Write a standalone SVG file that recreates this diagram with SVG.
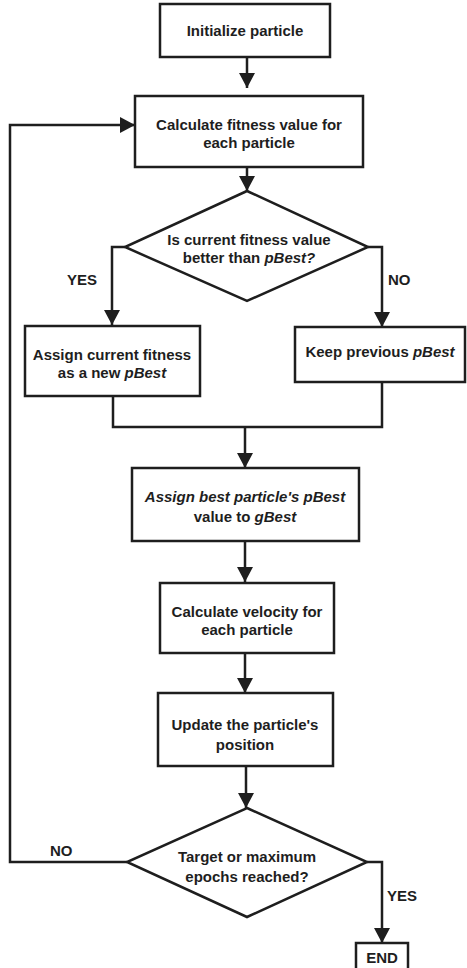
<svg xmlns="http://www.w3.org/2000/svg" width="467" height="968" viewBox="0 0 467 968">
<defs>
<marker id="arr" markerUnits="userSpaceOnUse" markerWidth="16" markerHeight="16" viewBox="0 0 16 16" refX="15" refY="8" orient="auto">
<path d="M0,0 L15,8 L0,16 Z" fill="#1e1e1e"/>
</marker>
</defs>
<style>
.box{fill:#fff;stroke:#1e1e1e;stroke-width:2.5}
.ln{fill:none;stroke:#1e1e1e;stroke-width:2.5}
.t{font-family:"Liberation Sans",Arial,sans-serif;font-weight:bold;font-size:15px;fill:#1e1e1e;text-anchor:middle}
.l{font-family:"Liberation Sans",Arial,sans-serif;font-weight:bold;font-size:15px;fill:#1e1e1e}
.i{font-style:italic}
</style>
<rect width="467" height="968" fill="#fff"/>
<g id="connectors">
<line class="ln" x1="247" y1="57" x2="247" y2="88" marker-end="url(#arr)"/>
<line class="ln" x1="247" y1="167" x2="247" y2="191" marker-end="url(#arr)"/>
<polyline class="ln" points="125,247 112,247 112,325" marker-end="url(#arr)"/>
<polyline class="ln" points="368,247 382,247 382,327" marker-end="url(#arr)"/>
<polyline class="ln" points="113,396 113,427 382,427 382,382"/>
<line class="ln" x1="245" y1="427" x2="245" y2="468" marker-end="url(#arr)"/>
<line class="ln" x1="245" y1="541" x2="245" y2="582" marker-end="url(#arr)"/>
<line class="ln" x1="245" y1="653" x2="245" y2="693" marker-end="url(#arr)"/>
<line class="ln" x1="246" y1="766" x2="246" y2="808" marker-end="url(#arr)"/>
<polyline class="ln" points="127,862 10,862 10,125 135,125" marker-end="url(#arr)"/>
<polyline class="ln" points="367,862 382,862 382,943" marker-end="url(#arr)"/>
<text class="l" x="67" y="285">YES</text>
<text class="l" x="388" y="285">NO</text>
<text class="l" x="50" y="856">NO</text>
<text class="l" x="387" y="901">YES</text>
</g>
<g id="init">
<rect class="box" x="160" y="4" width="170" height="53"/>
<text class="t" x="245" y="36">Initialize particle</text>
</g>
<g id="calc-fitness">
<rect class="box" x="135" y="96" width="228" height="71"/>
<text class="t" x="249" y="130">Calculate fitness value for</text>
<text class="t" x="249" y="148">each particle</text>
</g>
<g id="decision-pbest">
<polygon class="box" points="247,191 368,247 247,301 125,247"/>
<text class="t" x="249" y="245">Is current fitness value</text>
<text class="t" x="249" y="263">better than <tspan class="i">pBest?</tspan></text>
</g>
<g id="assign-pbest">
<rect class="box" x="25" y="326" width="175" height="70"/>
<text class="t" x="112" y="360">Assign current fitness</text>
<text class="t" x="112" y="378">as a new <tspan class="i">pBest</tspan></text>
</g>
<g id="keep-pbest">
<rect class="box" x="295" y="327" width="170" height="55"/>
<text class="t" x="380" y="357">Keep previous <tspan class="i">pBest</tspan></text>
</g>
<g id="assign-gbest">
<rect class="box" x="132" y="468" width="227" height="73"/>
<text class="t i" x="245" y="502">Assign best particle's pBest</text>
<text class="t" x="245" y="522">value to <tspan class="i">gBest</tspan></text>
</g>
<g id="calc-velocity">
<rect class="box" x="160" y="583" width="174" height="70"/>
<text class="t" x="247" y="617">Calculate velocity for</text>
<text class="t" x="247" y="635">each particle</text>
</g>
<g id="update-position">
<rect class="box" x="158" y="693" width="175" height="73"/>
<text class="t" x="245" y="730">Update the particle's</text>
<text class="t" x="245" y="750">position</text>
</g>
<g id="decision-end">
<polygon class="box" points="247,808 367,862 247,917 127,862"/>
<text class="t" x="247" y="862">Target or maximum</text>
<text class="t" x="247" y="882">epochs reached?</text>
</g>
<g id="end">
<rect class="box" x="356" y="943" width="52" height="30" stroke-width="3"/>
<text class="t" x="382" y="963">END</text>
</g>
</svg>
